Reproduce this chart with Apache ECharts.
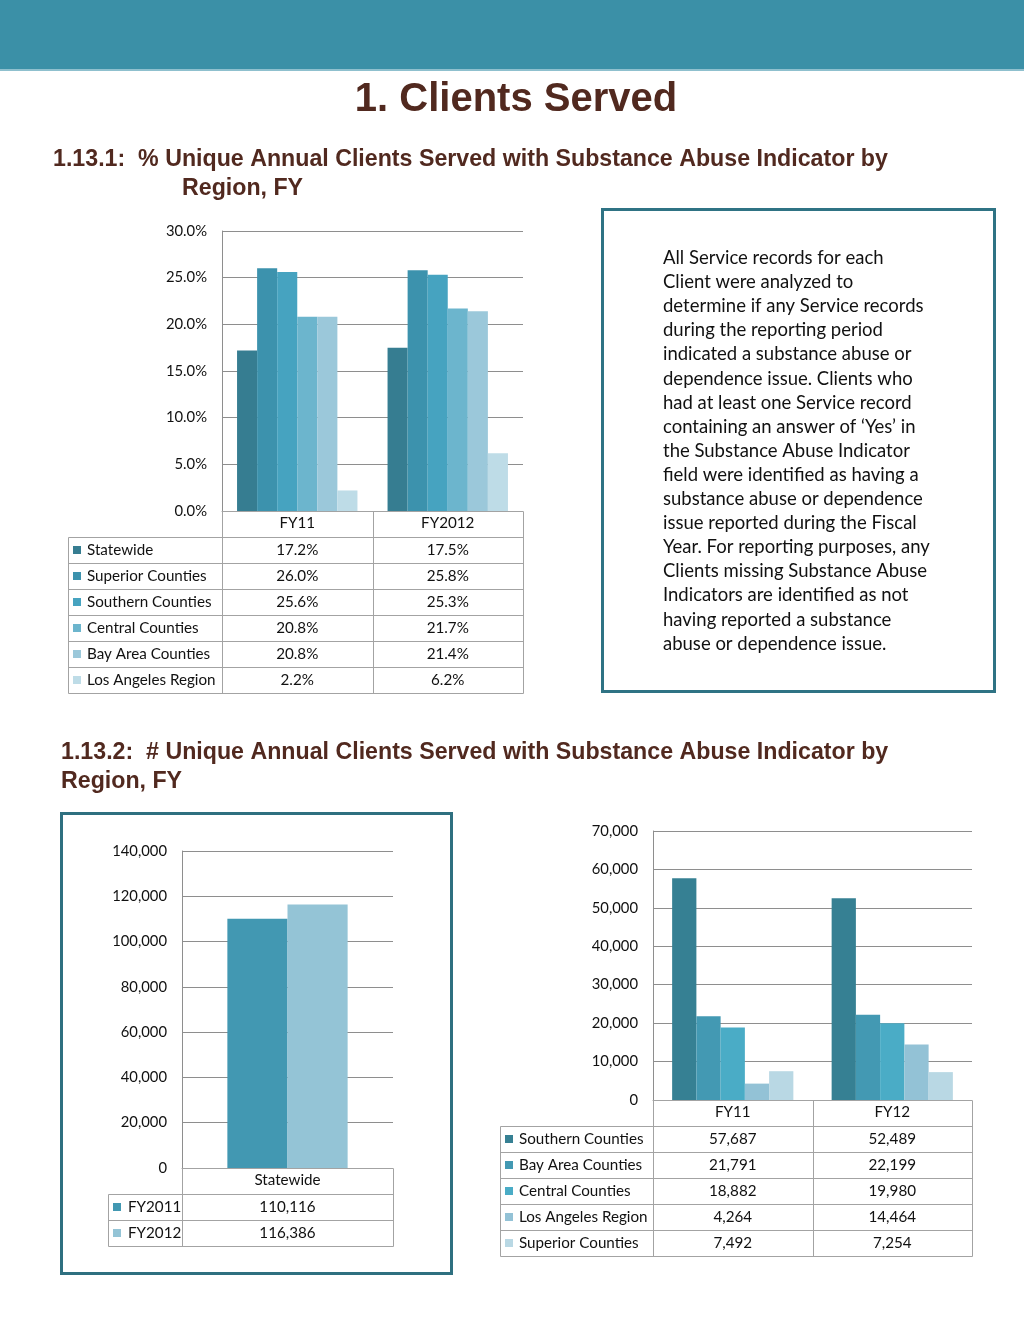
<!DOCTYPE html>
<html>
<head>
<meta charset="utf-8">
<script src="https://cdn.jsdelivr.net/npm/echarts@6/dist/echarts.min.js"></script>
<style>
  html, body { margin: 0; padding: 0; background: #fff; }
  #main { width: 1024px; height: 1325px; }
</style>
</head>
<body>
<div id="main"></div>
<script>
// ---------- DATA ----------
const pctCategories = ['FY11', 'FY2012'];
const pctSeriesNames = ['Statewide', 'Superior Counties', 'Southern Counties', 'Central Counties', 'Bay Area Counties', 'Los Angeles Region'];
const pctFY11 = [17.2, 26.0, 25.6, 20.8, 20.8, 2.2];
const pctFY2012 = [17.5, 25.8, 25.3, 21.7, 21.4, 6.2];
const pctAxis = { min: 0, max: 30, interval: 5 };

const stateCategories = ['Statewide'];
const stateSeriesNames = ['FY2011', 'FY2012'];
const stateValues = [110116, 116386];
const stateAxis = { min: 0, max: 140000, interval: 20000 };

const regionCategories = ['FY11', 'FY12'];
const regionSeriesNames = ['Southern Counties', 'Bay Area Counties', 'Central Counties', 'Los Angeles Region', 'Superior Counties'];
const regionFY11 = [57687, 21791, 18882, 4264, 7492];
const regionFY12 = [52489, 22199, 19980, 14464, 7254];
const regionAxis = { min: 0, max: 70000, interval: 10000 };

const pageTitle = '1. Clients Served';
const subtitle1 = ['1.13.1:  % Unique Annual Clients Served with Substance Abuse Indicator by', 'Region, FY'];
const subtitle2 = ['1.13.2:  # Unique Annual Clients Served with Substance Abuse Indicator by', 'Region, FY'];
const noteLines = [
  'All Service records for each',
  'Client were analyzed to',
  'determine if any Service records',
  'during the reporting period',
  'indicated a substance abuse or',
  'dependence issue. Clients who',
  'had at least one Service record',
  'containing an answer of \u2018Yes\u2019 in',
  'the Substance Abuse Indicator',
  'field were identified as having a',
  'substance abuse or dependence',
  'issue reported during the Fiscal',
  'Year. For reporting purposes, any',
  'Clients missing Substance Abuse',
  'Indicators are identified as not',
  'having reported a substance',
  'abuse or dependence issue.'
];

// ---------- STYLE ----------
const pctColors = ['#367D91', '#3C92AD', '#46A3C0', '#6CB5CD', '#9BC8DA', '#BEDCE7'];
const stateColors = ['#4298B2', '#94C4D6'];
const regionColors = ['#368093', '#4399B3', '#4AACC6', '#93C2D6', '#B9D8E4'];
const bodyFont = 'Lato, "Open Sans", sans-serif';
const headFont = '"Liberation Sans Narrow", "Liberation Sans", Arial, sans-serif';
const headColor = '#51291F';
const gridColor = '#8E8E8E';
const tableColor = '#A3A3A3';
const textColor = '#111111';
const tableFontSize = 15.2;
const axisFontSize = 14.8;

const G1 = { left: 222, top: 231, width: 301, height: 280 };
const G2 = { left: 182, top: 851, width: 211, height: 317 };
const G3 = { left: 653, top: 831, width: 319, height: 269 };

const fmtPct = v => v.toFixed(1) + '%';
const fmtNum = v => v.toLocaleString('en-US');

// ---------- TABLE BUILDER ----------
function buildTable(grid, labelLeft, rowH, headH, names, colors, columns, fmt, textOff) {
  const els = [];
  const nCat = columns.length;
  const cols = [labelLeft, grid.left];
  for (let i = 1; i <= nCat; i++) cols.push(grid.left + grid.width * i / nCat);
  const y0 = grid.top + grid.height;
  const y1 = y0 + headH;
  const nRows = names.length;
  const yEnd = y1 + nRows * rowH;
  const line = (x1, yA, x2, yB) => els.push({
    type: 'line', silent: true,
    shape: { x1: Math.round(x1) + 0.5, y1: Math.round(yA) + 0.5, x2: Math.round(x2) + 0.5, y2: Math.round(yB) + 0.5 },
    style: { stroke: tableColor, lineWidth: 1 }
  });
  for (let r = 0; r <= nRows; r++) line(cols[0], y1 + r * rowH, cols[cols.length - 1], y1 + r * rowH);
  line(cols[0], y1, cols[0], yEnd);
  for (let c = 1; c < cols.length; c++) line(cols[c], y0, cols[c], yEnd);
  for (let r = 0; r < nRows; r++) {
    const cy = y1 + r * rowH + rowH / 2;
    els.push({ type: 'rect', silent: true, shape: { x: cols[0] + 5, y: Math.round(cy - 4), width: 8, height: 8 }, style: { fill: colors[r] } });
    els.push({ type: 'text', silent: true, style: { x: cols[0] + textOff, y: cy, text: names[r], fill: textColor, font: tableFontSize + 'px ' + bodyFont, textAlign: 'left', textVerticalAlign: 'middle' } });
    for (let c = 0; c < nCat; c++) {
      els.push({ type: 'text', silent: true, style: { x: (cols[c + 1] + cols[c + 2]) / 2, y: cy, text: fmt(columns[c][r]), fill: textColor, font: tableFontSize + 'px ' + bodyFont, textAlign: 'center', textVerticalAlign: 'middle' } });
    }
  }
  return els;
}

const stateColumns = [stateValues];

const graphics = [
  { type: 'rect', silent: true, shape: { x: 0, y: 0, width: 1024, height: 70 }, style: { fill: '#3B90A7' } },
  { type: 'rect', silent: true, shape: { x: 0, y: 69, width: 1024, height: 2 }, style: { fill: '#8FC0CE' } },
  { type: 'text', silent: true, style: { x: 516, y: 100, text: pageTitle, fill: headColor, font: 'bold 40px ' + headFont, textAlign: 'center', textVerticalAlign: 'middle' } },
  { type: 'text', silent: true, style: { x: 53, y: 160, text: subtitle1[0], fill: headColor, font: 'bold 23.2px ' + headFont, textAlign: 'left', textVerticalAlign: 'middle' } },
  { type: 'text', silent: true, style: { x: 182, y: 189, text: subtitle1[1], fill: headColor, font: 'bold 23.2px ' + headFont, textAlign: 'left', textVerticalAlign: 'middle' } },
  { type: 'text', silent: true, style: { x: 61, y: 753, text: subtitle2[0], fill: headColor, font: 'bold 23.2px ' + headFont, textAlign: 'left', textVerticalAlign: 'middle' } },
  { type: 'text', silent: true, style: { x: 61, y: 782, text: subtitle2[1], fill: headColor, font: 'bold 23.2px ' + headFont, textAlign: 'left', textVerticalAlign: 'middle' } },
  { type: 'rect', silent: true, shape: { x: 602.5, y: 209.5, width: 392, height: 482 }, style: { fill: 'none', stroke: '#2F7384', lineWidth: 3 } },
  { type: 'text', silent: true, style: { x: 663, y: 246, text: noteLines.join('\n'), fill: '#111', font: '18.5px ' + bodyFont, lineHeight: 24.1, textAlign: 'left', textVerticalAlign: 'top' } },
  { type: 'rect', silent: true, shape: { x: 61.5, y: 813.5, width: 390, height: 460 }, style: { fill: 'none', stroke: '#2F7080', lineWidth: 3 } }
]
  .concat(buildTable(G1, 68, 26, 26, pctSeriesNames, pctColors, [pctFY11, pctFY2012], fmtPct, 19))
  .concat(buildTable(G2, 108, 26, 26, stateSeriesNames, stateColors, stateColumns, fmtNum, 20))
  .concat(buildTable(G3, 500, 26, 26, regionSeriesNames, regionColors, [regionFY11, regionFY12], fmtNum, 19));

function xAx(gridIndex, data) {
  return {
    type: 'category', gridIndex, data,
    axisLine: { show: true, lineStyle: { color: tableColor } },
    axisTick: { show: false },
    axisLabel: { color: textColor, fontSize: tableFontSize, fontFamily: bodyFont, margin: 5 }
  };
}
function yAx(gridIndex, ax, fmt) {
  return {
    type: 'value', gridIndex, min: ax.min, max: ax.max, interval: ax.interval,
    axisLine: { show: true, lineStyle: { color: gridColor } },
    axisTick: { show: false },
    splitLine: { show: true, lineStyle: { color: gridColor, width: 1 } },
    axisLabel: { color: textColor, fontSize: axisFontSize, fontFamily: bodyFont, margin: 15, formatter: fmt }
  };
}

const series = [];
pctSeriesNames.forEach((n, i) => series.push({
  type: 'bar', name: n, xAxisIndex: 0, yAxisIndex: 0,
  data: [pctFY11[i], pctFY2012[i]],
  itemStyle: { color: pctColors[i] }, barGap: '0%', barCategoryGap: '20%', silent: true
}));
stateSeriesNames.forEach((n, i) => series.push({
  type: 'bar', name: n, xAxisIndex: 1, yAxisIndex: 1,
  data: [stateValues[i]],
  itemStyle: { color: stateColors[i] }, barGap: '0%', barCategoryGap: '43%', silent: true
}));
regionSeriesNames.forEach((n, i) => series.push({
  type: 'bar', name: n, xAxisIndex: 2, yAxisIndex: 2,
  data: [regionFY11[i], regionFY12[i]],
  itemStyle: { color: regionColors[i] }, barGap: '0%', barCategoryGap: '24%', silent: true
}));

const chart = echarts.init(document.getElementById('main'), null, { renderer: 'canvas' });
chart.setOption({
  animation: false,
  backgroundColor: '#ffffff',
  grid: [
    Object.assign({ containLabel: false }, G1),
    Object.assign({ containLabel: false }, G2),
    Object.assign({ containLabel: false }, G3)
  ],
  xAxis: [xAx(0, pctCategories), xAx(1, stateCategories), xAx(2, regionCategories)],
  yAxis: [yAx(0, pctAxis, fmtPct), yAx(1, stateAxis, fmtNum), yAx(2, regionAxis, fmtNum)],
  series,
  graphic: graphics
});
</script>
</body>
</html>
